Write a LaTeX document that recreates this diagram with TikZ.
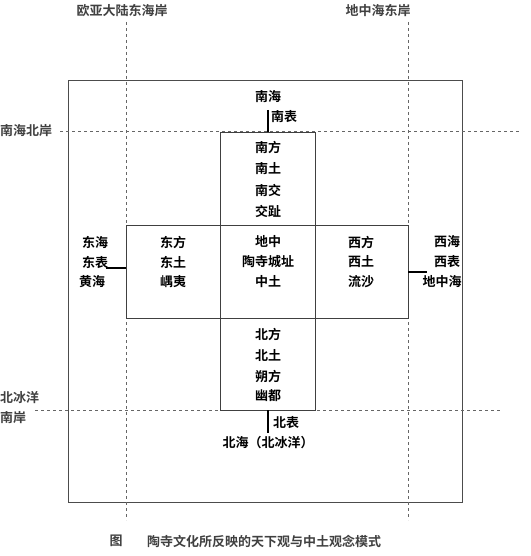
\documentclass[tikz,border=0pt]{standalone}
\usepackage{fontspec}
\newfontfamily\cjk{Noto Sans CJK SC}[BoldFont={Noto Sans CJK SC Bold}]
\begin{document}
\begin{tikzpicture}[x=1pt,y=-1pt,
  lbl/.style={font=\cjk\bfseries\fontsize{13}{14}\selectfont, inner sep=0pt, text=black},
  small/.style={font=\cjk\bfseries\fontsize{13}{14}\selectfont, inner sep=0pt, text=black!75},
  guide/.style={draw=black!60, dashed, dash pattern=on 3pt off 3pt, line width=0.6pt},
  box/.style={draw=black!75, line width=0.7pt},
  link/.style={draw=black, line width=2pt}]
\useasboundingbox (0,0) rectangle (530,556);
% outer frame
\draw[draw=black!70, line width=0.6pt] (68,80) rectangle (462,502);
% guide lines
\coordinate (vl1) at (126,22); \coordinate (vl2) at (126,520);
\coordinate (vr1) at (408,22); \coordinate (vr2) at (408,520);
\coordinate (ht1) at (60,131); \coordinate (ht2) at (520,131);
\coordinate (hb1) at (35,410); \coordinate (hb2) at (500,410);
\draw[guide] (vl1) -- (vl2);
\draw[guide] (vr1) -- (vr2);
\draw[guide] (ht1) -- (ht2);
\draw[guide] (hb1) -- (hb2);
% guide labels
\node[small] (tl) at (122,11) {欧亚大陆东海岸};
\node[small] (tr) at (378,11) {地中海东岸};
\node[small, anchor=west] (lh) at (0,131) {南海北岸};
\node[small, anchor=west] (lb1) at (0,398) {北冰洋};
\node[small, anchor=west] (lb2) at (0,418) {南岸};
% boxes
\draw[box] (220,132) rectangle (315,225);
\draw[box] (126,225) rectangle (408,318);
\draw[box] (220,225) -- (220,318);
\draw[box] (315,225) -- (315,318);
\draw[box] (220,318) rectangle (315,410);
\coordinate (sbox) at (268,132);
\coordinate (nbox) at (268,410);
\coordinate (ebox) at (126,268);
\coordinate (wbox) at (408,272);
% south
\node[lbl] (nanhai) at (268,97) {南海};
\node[lbl, anchor=west] (nanbiao) at (271,117) {南表};
\coordinate (slink) at (268,110);
\draw[link] (slink) -- (sbox);
\node[lbl] (s1) at (268,148) {南方};
\node[lbl] (s2) at (268,169) {南土};
\node[lbl] (s3) at (268,190) {南交};
\node[lbl] (s4) at (268,211) {交趾};
% middle row
\node[lbl] (e1) at (173,242) {东方};
\node[lbl] (e2) at (173,262) {东土};
\node[lbl] (e3) at (173,282) {嵎夷};
\node[lbl] (c1) at (268,242) {地中};
\node[lbl] (c2) at (268,262) {陶寺城址};
\node[lbl] (c3) at (268,282) {中土};
\node[lbl] (w1) at (361,242) {西方};
\node[lbl] (w2) at (361,262) {西土};
\node[lbl] (w3) at (361,282) {流沙};
% east outside
\node[lbl] (donghai) at (95,242) {东海};
\node[lbl] (dongbiao) at (95,262) {东表};
\node[lbl] (huanghai) at (92,282) {黄海};
\coordinate (elink) at (106,268);
\draw[link] (elink) -- (ebox);
% west outside
\node[lbl] (xihai) at (447,242) {西海};
\node[lbl] (xibiao) at (447,262) {西表};
\node[lbl] (dzh) at (442,282) {地中海};
\coordinate (wlink) at (427,272);
\draw[link] (wbox) -- (wlink);
% north
\node[lbl] (n1) at (268,334) {北方};
\node[lbl] (n2) at (268,355) {北土};
\node[lbl] (n3) at (268,376) {朔方};
\node[lbl] (n4) at (268,396) {幽都};
\coordinate (nlink) at (268,433);
\draw[link] (nbox) -- (nlink);
\node[lbl, anchor=west] (beibiao) at (273,423) {北表};
\node[lbl] (beihai) at (268,443) {北海（北冰洋）};
% caption
\node[small] (fig) at (116,541) {图};
\node[small, anchor=west] (cap) at (147,541) {陶寺文化所反映的天下观与中土观念模式};
\end{tikzpicture}
\end{document}
